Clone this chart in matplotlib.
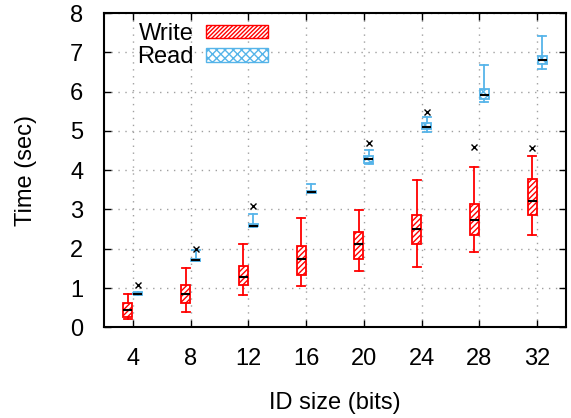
import matplotlib
matplotlib.use("Agg")
import matplotlib.pyplot as plt
from matplotlib.patches import Patch

plt.rcParams['font.family'] = ['Liberation Sans', 'DejaVu Sans']
plt.rcParams['hatch.linewidth'] = 1.0

id_sizes = [4, 8, 12, 16, 20, 24, 28, 32]

# Write: whisker low, q1, median, q3, whisker high
write_wlo = [0.22, 0.39, 0.81, 1.06, 1.43, 1.54, 1.92, 2.36]
write_q1 = [0.26, 0.63, 1.07, 1.32, 1.74, 2.12, 2.35, 2.87]
write_med = [0.43, 0.86, 1.29, 1.73, 2.13, 2.50, 2.72, 3.22]
write_q3 = [0.63, 1.07, 1.56, 2.06, 2.42, 2.87, 3.14, 3.77]
write_whi = [0.86, 1.50, 2.13, 2.78, 2.98, 3.74, 4.07, 4.35]
write_out = [[], [], [], [], [], [], [4.58], [4.56]]

# Read
read_wlo = [0.82, 1.69, 2.55, 3.41, 4.15, 4.97, 5.73, 6.57]
read_q1 = [0.84, 1.70, 2.57, 3.43, 4.18, 5.04, 5.81, 6.70]
read_med = [0.86, 1.72, 2.59, 3.45, 4.28, 5.11, 5.91, 6.80]
read_q3 = [0.88, 1.75, 2.62, 3.47, 4.37, 5.19, 6.06, 6.91]
read_whi = [0.90, 1.98, 2.89, 3.65, 4.52, 5.36, 6.68, 7.42]
read_out = [[1.07], [2.00], [3.08], [], [4.70], [5.49], [], []]

write_color = '#ff0000'
read_color = '#56b4e9'
fs = 17

fig = plt.figure(figsize=(5.71, 4.18), dpi=100)
ax = fig.add_axes([104/571, (418-327.3)/418, (566-104)/571, (327.3-13)/418])


def make_stats(wlo, q1, med, q3, whi, out):
    return [dict(whislo=a, q1=b, med=c, q3=d, whishi=e, fliers=f)
            for a, b, c, d, e, f in zip(wlo, q1, med, q3, whi, out)]


off = 0.34
bw = 0.62
for stats, color, hatch, sign in [
    (make_stats(write_wlo, write_q1, write_med, write_q3, write_whi, write_out), write_color, '//////', -1),
    (make_stats(read_wlo, read_q1, read_med, read_q3, read_whi, read_out), read_color, 'xxxx', 1),
]:
    pos = [x + sign * off for x in id_sizes]
    ax.bxp(stats, positions=pos, widths=bw, capwidths=0.55, patch_artist=True,
           boxprops=dict(facecolor='white', edgecolor=color, linewidth=1.3, hatch=hatch),
           whiskerprops=dict(color=color, linewidth=1.3),
           capprops=dict(color=color, linewidth=1.3),
           medianprops=dict(color='black', linewidth=1.5),
           flierprops=dict(marker='x', markeredgecolor='black', markersize=5, markeredgewidth=1.0),
           manage_ticks=False, zorder=3)

ax.set_xlim(2, 34)
ax.set_ylim(0, 8)
ax.set_xticks(id_sizes)
ax.set_xticklabels([str(v) for v in id_sizes])
ax.set_yticks(range(0, 9))
ax.grid(True, linestyle=(0, (1, 4)), color='#a0a0a0', linewidth=1.0, zorder=0)
ax.set_axisbelow(True)
ax.tick_params(direction='in', top=True, right=True, length=5, width=1,
               labelsize=fs, pad=15)
for s in ax.spines.values():
    s.set_linewidth(1.5)

ax.set_xlabel('ID size (bits)', fontsize=fs, labelpad=16)
ax.set_ylabel('Time (sec)', fontsize=fs, labelpad=24)

handles = [Patch(facecolor='white', edgecolor=write_color, hatch='////////', linewidth=1.0),
           Patch(facecolor='white', edgecolor=read_color, hatch='xxxx', linewidth=1.0)]
ax.legend(handles, ['Write', 'Read'], loc='upper left',
          bbox_to_anchor=((137-104)/462, 1 - (23-13)/314.3),
          frameon=False, markerfirst=False, fontsize=fs,
          handlelength=2.6, handleheight=0.5, handletextpad=0.55,
          labelspacing=0.05, borderpad=0, borderaxespad=0)

fig.savefig('out.png', dpi=100)
